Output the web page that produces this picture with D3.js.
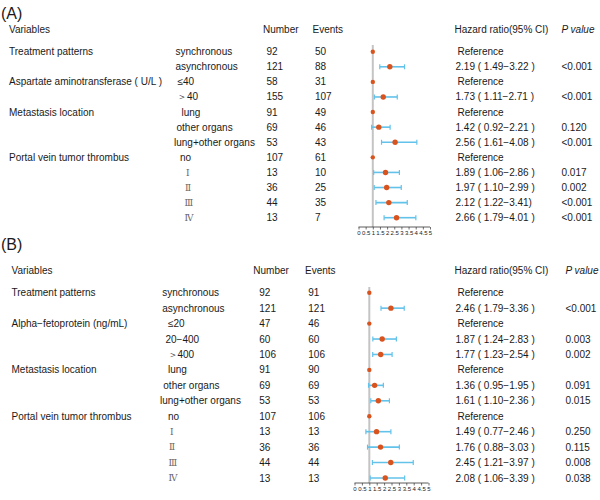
<!DOCTYPE html>
<html><head><meta charset="utf-8">
<script src="https://cdn.jsdelivr.net/npm/d3@7"></script>
<style>body{margin:0;background:#fff}svg{display:block;font-family:Arial,"Liberation Sans",sans-serif}</style>
</head><body><svg id="c" width="600" height="500"></svg>
<script>
// ---------- Panel A data ----------
const aVars = ["Treatment patterns","","Aspartate aminotransferase ( U/L )","","Metastasis location","","","Portal vein tumor thrombus","","","",""];
const aSub = ["synchronous","asynchronous","≤40","＞40","lung","other organs","lung+other organs","no","Ⅰ","Ⅱ","Ⅲ","Ⅳ"];
const aNumber = [92,121,58,155,91,69,53,107,13,36,44,13];
const aEvents = [50,88,31,107,49,46,43,61,10,25,35,7];
const aHR = [1,2.19,1,1.73,1,1.42,2.56,1,1.89,1.97,2.12,2.66];
const aLo = [null,1.49,null,1.11,null,0.92,1.61,null,1.06,1.10,1.22,1.79];
const aHi = [null,3.22,null,2.71,null,2.21,4.08,null,2.86,2.99,3.41,4.01];
const aHRText = ["Reference","2.19 ( 1.49−3.22 )","Reference","1.73 ( 1.11−2.71 )","Reference","1.42 ( 0.92−2.21 )","2.56 ( 1.61−4.08 )","Reference","1.89 ( 1.06−2.86 )","1.97 ( 1.10−2.99 )","2.12 ( 1.22−3.41)","2.66 ( 1.79−4.01 )"];
const aP = ["","<0.001","","<0.001","","0.120","<0.001","","0.017","0.002","<0.001","<0.001"];

// ---------- Panel B data ----------
const bVars = ["Treatment patterns","","Alpha−fetoprotein (ng/mL)","","","Metastasis location","","","Portal vein tumor thrombus","","","",""];
const bSub = ["synchronous","asynchronous","≤20","20−400","＞400","lung","other organs","lung+other organs","no","Ⅰ","Ⅱ","Ⅲ","Ⅳ"];
const bNumber = [92,121,47,60,106,91,69,53,107,13,36,44,13];
const bEvents = [91,121,46,60,106,90,69,53,106,13,36,44,13];
const bHR = [1,2.46,1,1.87,1.77,1,1.36,1.61,1,1.49,1.76,2.45,2.08];
const bLo = [null,1.79,null,1.24,1.23,null,0.95,1.10,null,0.77,0.88,1.21,1.06];
const bHi = [null,3.36,null,2.83,2.54,null,1.95,2.36,null,2.46,3.03,3.97,3.39];
const bHRText = ["Reference","2.46 ( 1.79−3.36 )","Reference","1.87 ( 1.24−2.83 )","1.77 ( 1.23−2.54 )","Reference","1.36 ( 0.95−1.95 )","1.61 ( 1.10−2.36 )","Reference","1.49 ( 0.77−2.46 )","1.76 ( 0.88−3.03 )","2.45 ( 1.21−3.97 )","2.08 ( 1.06−3.39 )"];
const bP = ["","<0.001","","0.003","0.002","","0.091","0.015","","0.250","0.115","0.008","0.038"];

const axisTicks = [0,0.5,1,1.5,2,2.5,3,3.5,4,4.5,5];
const headers = ["Variables","Number","Events","Hazard ratio(95% CI)","P value"];

const svg = d3.select("#c");
const TXT = "#1a1a1a", DOT = "#d9531e", CI = "#62c2ea", REF = "#c4c4c4";

function panel(cfg){
  const n = cfg.sub.length;
  const y = d3.scalePoint().domain(d3.range(n)).range([cfg.y0, cfg.y1]);
  const x = d3.scaleLinear().domain([0,5]).range(cfg.xr);
  const g = svg.append("g");
  g.append("text").attr("x",1).attr("y",cfg.titleY).attr("font-size",16).attr("fill",TXT).text(cfg.title);
  const hx = [cfg.cVar, cfg.cNumH, cfg.cEvH, cfg.cHR-1, cfg.cPH];
  headers.forEach((h,i)=>{
    g.append("text").attr("x",hx[i]).attr("y",cfg.headY).attr("dy","0.35em").attr("font-size",10)
     .attr("fill",TXT).attr("font-style", i===4?"italic":null).text(h);
  });
  // reference line (drawn first, under the marks)
  g.append("line").attr("x1",x(1)).attr("x2",x(1)).attr("y1",cfg.refTop).attr("y2",cfg.axisY)
    .attr("stroke",REF).attr("stroke-width",2);

  const rows = g.selectAll("g.row").data(d3.range(n)).join("g").attr("class","row");
  const t = (sel,xp,fn)=>sel.append("text").attr("x",xp).attr("y",i=>y(i)).attr("dy","0.35em").attr("font-size",10).attr("fill",TXT).text(fn);
  t(rows,cfg.cVar,i=>cfg.vars[i]);
  const isRoman = i=>/[ⅠⅡⅢⅣ]/.test(cfg.sub[i]);
  rows.append("text").attr("x",i=>cfg.subX[i]).attr("y",i=>y(i)).attr("dy","0.35em")
    .attr("font-size",i=>isRoman(i)?9:10)
    .attr("font-family",i=>isRoman(i)?"'DejaVu Serif',serif":null)
    .attr("fill",i=>isRoman(i)?"#666":TXT).text(i=>cfg.sub[i]);
  t(rows,cfg.cNum,i=>cfg.num[i]);
  t(rows,cfg.cEv,i=>cfg.ev[i]);
  rows.append("text").attr("x",i=>cfg.hrt[i]==="Reference"?cfg.cHR+2:cfg.cHR).attr("y",i=>y(i)).attr("dy","0.35em")
    .attr("font-size",10).attr("fill",TXT).text(i=>cfg.hrt[i]);
  t(rows,cfg.cP,i=>cfg.p[i]);

  // CIs
  const ci = rows.filter(i=>cfg.lo[i]!==null);
  ci.append("line").attr("x1",i=>x(cfg.lo[i])).attr("x2",i=>x(cfg.hi[i])).attr("y1",i=>y(i)).attr("y2",i=>y(i))
    .attr("stroke",CI).attr("stroke-width",1.6);
  ci.append("line").attr("x1",i=>x(cfg.lo[i])).attr("x2",i=>x(cfg.lo[i])).attr("y1",i=>y(i)-2.5).attr("y2",i=>y(i)+2.5).attr("stroke",CI).attr("stroke-width",1.2);
  ci.append("line").attr("x1",i=>x(cfg.hi[i])).attr("x2",i=>x(cfg.hi[i])).attr("y1",i=>y(i)-2.5).attr("y2",i=>y(i)+2.5).attr("stroke",CI).attr("stroke-width",1.2);
  rows.append("circle").attr("cx",i=>x(cfg.hr[i])).attr("cy",i=>y(i)).attr("r",i=>cfg.lo[i]===null?2.2:2.7).attr("fill",DOT);

  // axis
  const ax = g.append("g").attr("transform",`translate(0,${cfg.axisY})`)
    .call(d3.axisBottom(x).tickValues(axisTicks).tickSize(2.5).tickPadding(1).tickFormat(d3.format("")));
  ax.select(".domain").attr("stroke","#333").attr("stroke-width",0.8).attr("d",`M${x(0)},0H${x(5)}`);
  ax.selectAll(".tick line").attr("stroke","#333").attr("stroke-width",0.7);
  ax.selectAll(".tick text").attr("font-size",6).attr("fill",TXT).attr("font-family","Arial,'Liberation Sans',sans-serif");
}

panel({title:"(A)", titleY:19, headY:29, y0:51.7, y1:217.7, xr:[358.5,430], refTop:45, axisY:227,
  vars:aVars, sub:aSub, num:aNumber, ev:aEvents, hr:aHR, lo:aLo, hi:aHi, hrt:aHRText, p:aP,
  cVar:9, subX:[175.5,175.5,177.5,177,181.5,176.5,174,180,186,185,184.5,184.5],
  cNumH:263, cNum:266.5, cEvH:312.5, cEv:315, cHR:455.5, cPH:561.5, cP:561.5});

panel({title:"(B)", titleY:250, headY:270, y0:292.7, y1:478, xr:[354.5,428.5], refTop:287, axisY:483,
  vars:bVars, sub:bSub, num:bNumber, ev:bEvents, hr:bHR, lo:bLo, hi:bHi, hrt:bHRText, p:bP,
  cVar:11.5, subX:[162.3,162.3,168,165.5,167.5,168,163.3,160,168,170,169,168.5,168.5],
  cNumH:253.3, cNum:259.3, cEvH:305, cEv:308.3, cHR:455.5, cPH:565.5, cP:565.5});
</script></body></html>
